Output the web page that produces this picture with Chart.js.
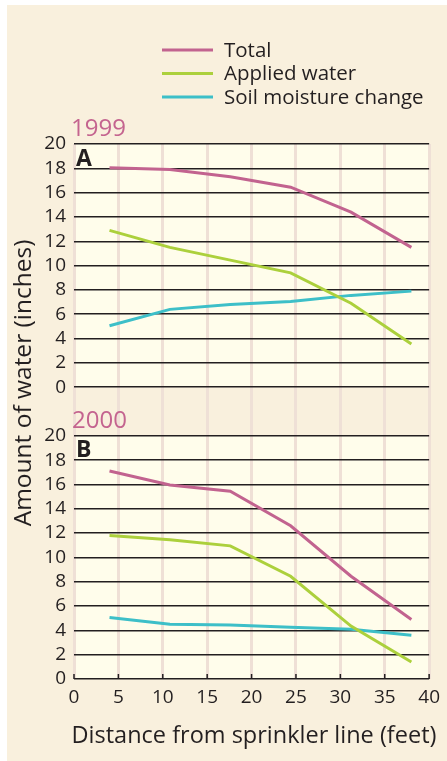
<!DOCTYPE html>
<html>
<head>
<meta charset="utf-8">
<script src="https://cdn.jsdelivr.net/npm/chart.js@4.4.1/dist/chart.umd.min.js"></script>
<style>
  body { margin: 0; background: #ffffff; }
  canvas { display: block; }
</style>
</head>
<body>
<canvas id="myChart" width="447" height="761"></canvas>
<script>
// distances (feet) where water was measured
const distance = [4, 10.8, 17.6, 24.4, 31.2, 38];

// 1999 (panel A), inches
const total1999 = [18.05, 17.9, 17.3, 16.45, 14.4, 11.5];
const applied1999 = [12.9, 11.5, 10.45, 9.4, 6.9, 3.55];
const soil1999 = [5.05, 6.4, 6.8, 7.05, 7.55, 7.9];

// 2000 (panel B), inches
const total2000 = [17.1, 15.95, 15.45, 12.6, 8.45, 4.9];
const applied2000 = [11.8, 11.45, 10.95, 8.45, 4.35, 1.4];
const soil2000 = [5.05, 4.5, 4.45, 4.25, 4.1, 3.6];

const xTicks = [0, 5, 10, 15, 20, 25, 30, 35, 40];
const yTicks = [0, 2, 4, 6, 8, 10, 12, 14, 16, 18, 20];

const seriesNames = ['Total', 'Applied water', 'Soil moisture change'];
const seriesColors = ['#c2638f', '#acd03c', '#3dbfc8'];

// both panels share one value axis: panel B sits on 0-20, panel A is lifted above a gap
const PANEL_MAX = 20;
const GAP = 4;
const A_SHIFT = PANEL_MAX + GAP;

const DARK = '#231f20';
const BEIGE = '#f9f0dd';
const CREAM = '#fffdeb';
const FONT = '"Open Sans", "Noto Sans", sans-serif';

function points(values, shift) {
    return values.map(function (v, i) {
        return { x: distance[i], y: v + shift };
    });
}

function line(label, values, color, shift) {
    return {
        label: label,
        data: points(values, shift),
        borderColor: color,
        backgroundColor: color,
        borderWidth: 3,
        pointRadius: 0,
        tension: 0,
        fill: false
    };
}

const backgroundPlugin = {
    id: 'panels',
    beforeDraw: function (chart) {
        const c = chart.ctx;
        const x = chart.scales.x;
        const y = chart.scales.y;
        c.save();
        c.fillStyle = BEIGE;
        c.fillRect(7, 5, chart.width - 7, chart.height - 5);
        c.fillStyle = CREAM;
        const left = x.getPixelForValue(0);
        const right = x.getPixelForValue(40);
        // panel A
        let top = y.getPixelForValue(A_SHIFT + PANEL_MAX);
        let bottom = y.getPixelForValue(A_SHIFT);
        c.fillRect(left, top, right - left, bottom - top);
        // panel B
        top = y.getPixelForValue(PANEL_MAX);
        bottom = y.getPixelForValue(0);
        c.fillRect(left, top, right - left, bottom - top);
        c.restore();
    }
};

const textPlugin = {
    id: 'texts',
    beforeDatasetsDraw: function (chart) {
        // small inward tick marks on the bottom axis
        const c = chart.ctx;
        const x = chart.scales.x;
        const bottom = chart.chartArea.bottom;
        c.save();
        c.strokeStyle = DARK;
        c.lineWidth = 1.5;
        xTicks.forEach(function (t) {
            const px = x.getPixelForValue(t);
            c.beginPath();
            c.moveTo(px, bottom - 5);
            c.lineTo(px, bottom);
            c.stroke();
        });
        c.restore();
    },
    afterDraw: function (chart) {
        const c = chart.ctx;
        c.save();
        c.textBaseline = 'middle';

        // legend
        c.font = '20.5px ' + FONT;
        seriesNames.forEach(function (name, i) {
            const ly = 50 + i * 23.5;
            c.strokeStyle = seriesColors[i];
            c.lineWidth = 3;
            c.beginPath();
            c.moveTo(162, ly);
            c.lineTo(213, ly);
            c.stroke();
            c.fillStyle = DARK;
            c.textAlign = 'left';
            c.fillText(name, 224, ly + 1);
        });

        // year titles
        c.fillStyle = '#c4648f';
        c.font = '24px ' + FONT;
        c.fillText('1999', 71, 129);
        c.fillText('2000', 72, 421);

        // panel letters
        c.fillStyle = DARK;
        c.font = 'bold 23px ' + FONT;
        c.fillText('A', 76, 159);
        c.fillText('B', 76, 450);

        // axis titles
        c.font = '23.5px ' + FONT;
        c.textAlign = 'center';
        c.fillText('Distance from sprinkler line (feet)', 254, 736);
        c.font = '24.5px ' + FONT;
        c.translate(24, 383);
        c.rotate(-Math.PI / 2);
        c.fillText('Amount of water (inches)', 0, 0);
        c.restore();
    }
};

function tickLabel(value) {
    if (value <= PANEL_MAX) return String(value);
    if (value >= A_SHIFT) return String(value - A_SHIFT);
    return '';
}

function drawChart() {
    const ctx = document.getElementById('myChart').getContext('2d');
    const chart = new Chart(ctx, {
        type: 'line',
        data: {
            datasets: [
                line(seriesNames[0], total1999, seriesColors[0], A_SHIFT),
                line(seriesNames[1], applied1999, seriesColors[1], A_SHIFT),
                line(seriesNames[2], soil1999, seriesColors[2], A_SHIFT),
                line(seriesNames[0], total2000, seriesColors[0], 0),
                line(seriesNames[1], applied2000, seriesColors[1], 0),
                line(seriesNames[2], soil2000, seriesColors[2], 0)
            ]
        },
        options: {
            responsive: false,
            animation: false,
            layout: {
                padding: { left: 0, top: 144, right: 14, bottom: 0 }
            },
            plugins: {
                legend: { display: false },
                tooltip: { enabled: false }
            },
            scales: {
                x: {
                    type: 'linear',
                    min: 0,
                    max: 40,
                    z: -2,
                    afterFit: function (scale) { scale.height = 82; },
                    afterBuildTicks: function (scale) {
                        scale.ticks = xTicks.map(function (v) { return { value: v }; });
                    },
                    border: { display: false },
                    grid: {
                        color: '#efe0d6',
                        lineWidth: 3,
                        drawTicks: false
                    },
                    ticks: {
                        color: DARK,
                        padding: 7,
                        maxRotation: 0,
                        font: { family: FONT, size: 19 }
                    }
                },
                y: {
                    type: 'linear',
                    min: 0,
                    max: A_SHIFT + PANEL_MAX,
                    z: -1,
                    afterFit: function (scale) { scale.width = 74; },
                    afterBuildTicks: function (scale) {
                        const list = [];
                        yTicks.forEach(function (v) { list.push({ value: v }); });
                        list.push({ value: PANEL_MAX + GAP / 2 });
                        yTicks.forEach(function (v) { list.push({ value: v + A_SHIFT }); });
                        scale.ticks = list;
                    },
                    border: { display: false },
                    grid: {
                        color: function (c) {
                            return tickLabel(c.tick.value) === '' ? 'rgba(0,0,0,0)' : DARK;
                        },
                        lineWidth: 1.5,
                        drawTicks: false
                    },
                    ticks: {
                        color: DARK,
                        padding: 8,
                        autoSkip: false,
                        callback: tickLabel,
                        font: { family: FONT, size: 19 }
                    }
                }
            }
        },
        plugins: [backgroundPlugin, textPlugin]
    });
    return chart;
}

Promise.all([
    document.fonts.load('18px "Open Sans"'),
    document.fonts.load('bold 23px "Open Sans"')
]).then(drawChart, drawChart);
</script>
</body>
</html>
